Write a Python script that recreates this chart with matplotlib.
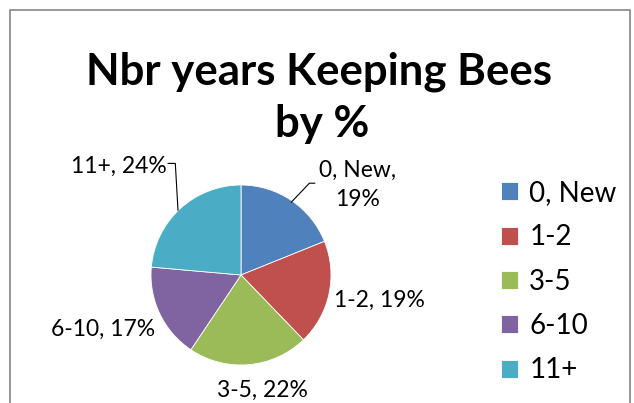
import matplotlib.pyplot as plt
from matplotlib.patches import Rectangle

# Data (share of beekeepers by years of experience)
categories = ['0, New', '1-2', '3-5', '6-10', '11+']
shares = [18.9, 18.9, 21.6, 17.0, 23.6]
colors = ['#4F81BD', '#C0504D', '#9BBB59', '#8064A2', '#4BACC6']

plt.rcParams['font.family'] = ['Lato', 'DejaVu Sans']

W, H = 634, 403
fig = plt.figure(figsize=(W / 100, H / 100), dpi=100)

# chart area border (bottom edge is cut off in the original)
fig.patches.append(Rectangle((10 / W, -0.1), 620 / W, (H - 10) / H + 0.1,
                             transform=fig.transFigure, fill=False,
                             edgecolor='#868686', linewidth=1.2))

# title
fig.text(319 / W, 1 - 85 / H, 'Nbr years Keeping Bees', ha='center', va='baseline',
         fontsize=31.5, fontweight='bold')
fig.text(322 / W, 1 - 137 / H, 'by %', ha='center', va='baseline',
         fontsize=31.5, fontweight='bold')

# pie axes: center (241, 275) px, radius 90 px
cx, cy, r = 241, 275, 90
ax = fig.add_axes([(cx - r) / W, (H - cy - r) / H, 2 * r / W, 2 * r / H])
wedges, _ = ax.pie(shares, colors=colors, startangle=90, counterclock=False,
                   radius=1, wedgeprops=dict(linewidth=0.6, edgecolor='white'))
ax.set_xlim(-1, 1)
ax.set_ylim(-1, 1)
ax.set_aspect('equal')
ax.axis('off')

# data labels (positions in pie radius units)
label_pos = [(1.29, 1.0), (1.54, -0.28), (0.24, -1.28), (-1.53, -0.60), (-1.36, 1.21)]
texts = [f'{c}, {round(s)}%' for c, s in zip(categories, shares)]
texts[0] = f'{categories[0]},\n{round(shares[0])}%'
for t, (x, y) in zip(texts, label_pos):
    ax.text(x, y, t, ha='center', va='center', fontsize=16.5, linespacing=1.45,
            clip_on=False)

# leader lines
ax.plot([-0.81, -0.73, -0.70], [1.24, 1.24, 0.72], color='black', lw=0.8, clip_on=False)
ax.plot([0.82, 0.76, 0.56], [1.02, 1.02, 0.81], color='black', lw=0.8, clip_on=False)

# legend
fig.legend(wedges, categories, loc='upper left',
           bbox_to_anchor=(501 / W, 1 - 180 / H), frameon=False,
           fontsize=20, borderpad=0, borderaxespad=0,
           handlelength=0.62, handleheight=0.62, handletextpad=0.4,
           labelspacing=0.66)

fig.savefig('out.png', dpi=100)
